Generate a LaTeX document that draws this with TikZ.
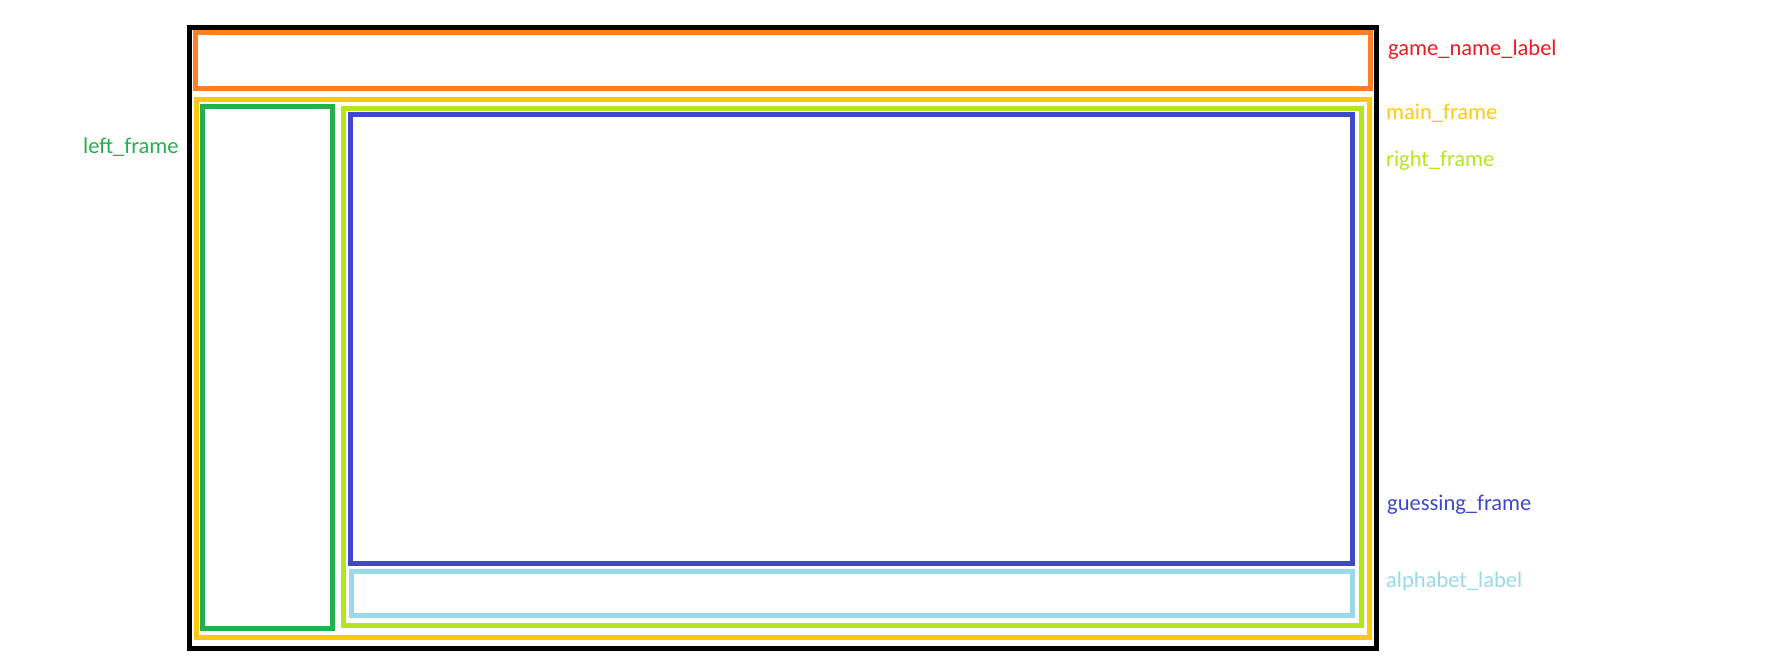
\documentclass[tikz,border=0pt]{standalone}
\usepackage{fontspec}
\setmainfont{Carlito}
\usetikzlibrary{fit}
\definecolor{cblack}{HTML}{000000}
\definecolor{corange}{HTML}{FF7F27}
\definecolor{cyellow}{HTML}{FFC90E}
\definecolor{cgreen}{HTML}{22B14C}
\definecolor{clime}{HTML}{B5E61D}
\definecolor{cblue}{HTML}{3F48CC}
\definecolor{clblue}{HTML}{99D9EA}
\definecolor{cred}{HTML}{ED1C24}
\tikzset{
  box/.style={draw=#1, line width=5pt, inner sep=0pt, rectangle},
  lbl/.style={text=#1, anchor=base west, inner sep=0pt, font=\fontsize{22.5}{26}\selectfont}
}
\begin{document}
\begin{tikzpicture}[x=1pt,y=-1pt]
\path[use as bounding box] (0,0) rectangle (1781,665);
\node[box=cblack, fit={(189.5,27.5)(1376.5,648.5)}] (window) {};
\node[box=corange, fit={(195,32.5)(1370,88)}] (gamename) {};
\node[box=cyellow, fit={(196.3,99)(1369,637.5)}] (mainframe) {};
\node[box=cgreen, fit={(202.5,106.5)(332.5,628.5)}] (leftframe) {};
\node[box=clime, fit={(343.5,108)(1361.5,625.5)}] (rightframe) {};
\node[box=cblue, fit={(350,114)(1352.5,563)}] (guessing) {};
\node[box=clblue, fit={(351.5,571.5)(1352.5,615)}] (alphabet) {};
\node[lbl=cred] (t1) at (1388,55.5) {game\_name\_label};
\node[lbl=cyellow] (t2) at (1386,119) {main\_frame};
\node[lbl=clime] (t3) at (1386,166.5) {right\_frame};
\node[lbl=cblue] (t4) at (1387,510.5) {guessing\_frame};
\node[lbl=clblue] (t5) at (1386,587) {alphabet\_label};
\node[lbl=cgreen] (t6) at (83,153) {left\_frame};
\end{tikzpicture}
\end{document}
